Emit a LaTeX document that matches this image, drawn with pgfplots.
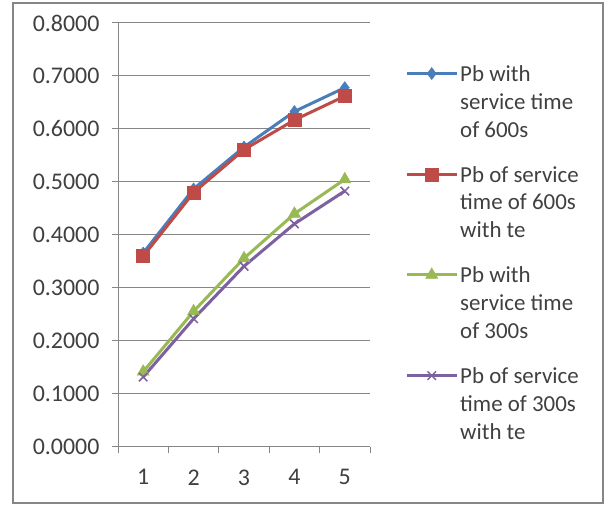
\documentclass[border=0pt]{standalone}
\usepackage{fontspec}
\setmainfont{Carlito}
\usepackage{pgfplots}
\pgfplotsset{compat=1.18}
\definecolor{sblue}{HTML}{4A7EBB}
\definecolor{sred}{HTML}{BE4B48}
\definecolor{sgreen}{HTML}{98B954}
\definecolor{spurple}{HTML}{7D60A0}
\definecolor{txt}{HTML}{404040}
\definecolor{axgray}{HTML}{868686}

\begin{document}
\begin{tikzpicture}
\path[use as bounding box] (0bp,0bp) rectangle (609bp,506bp);
\fill[white] (0bp,0bp) rectangle (609bp,506bp);
\draw[axgray, line width=1.5bp] (13bp,3bp) rectangle (603bp,503bp);
\begin{axis}[
  at={(118bp,59bp)}, anchor=south west,
  scale only axis, width=252bp, height=424bp,
  xmin=0.5, xmax=5.5, ymin=0, ymax=0.8,
  axis lines=left, axis line style={-, axgray, line width=1bp},
  xtick={0.5,1.5,2.5,3.5,4.5,5.5},
  xticklabels={1,2,3,4,5},
  x tick label as interval,
  ytick={0,0.1,0.2,0.3,0.4,0.5,0.6,0.7,0.8},
  tick align=outside, major tick length=6bp,
  tick style={axgray, line width=1bp},
  ymajorgrids=true, grid style={axgray, line width=1bp},
  ticklabel style={font=\fontsize{24}{28}\selectfont, text=txt},
  yticklabel style={xshift=-9bp, /pgf/number format/.cd, fixed, fixed zerofill, precision=4, assume math mode=true},
  xticklabel style={yshift=-13bp, /pgf/number format/assume math mode=true},
  legend style={draw=none, fill=none, at={(1.139,0.905)}, anchor=north west,
    inner sep=0pt, row sep=23.5bp,
    cells={anchor=west, align=left, text=txt, font=\fontsize{23}{28}\selectfont}},
  legend image code/.code={\draw[mark repeat=2, mark phase=2, yshift=28.5bp, #1] plot coordinates {(0bp,0bp) (25bp,0bp) (50bp,0bp)};},
  every axis plot/.append style={line width=3bp},
  clip=false,
]
\addplot[color=sblue, mark=diamond*, mark size=6bp, mark options={line width=0.5bp}]
  coordinates {(1,0.366)(2,0.487)(3,0.566)(4,0.633)(5,0.678)};
\addlegendentry{Pb with\\service time\\of 600s}
\addplot[color=sred, mark=square*, mark size=6.5bp, mark options={line width=0.5bp}]
  coordinates {(1,0.360)(2,0.480)(3,0.561)(4,0.617)(5,0.662)};
\addlegendentry{Pb of service\\time of 600s\\with te}
\addplot[color=sgreen, mark=triangle*, mark size=7bp, mark options={line width=0.5bp}]
  coordinates {(1,0.142)(2,0.256)(3,0.356)(4,0.440)(5,0.505)};
\addlegendentry{Pb with\\service time\\of 300s}
\addplot[color=spurple, mark=x, mark size=6bp, mark options={line width=1.5bp}]
  coordinates {(1,0.132)(2,0.242)(3,0.341)(4,0.421)(5,0.483)};
\addlegendentry{Pb of service\\time of 300s\\with te}
\end{axis}
\end{tikzpicture}
\end{document}
